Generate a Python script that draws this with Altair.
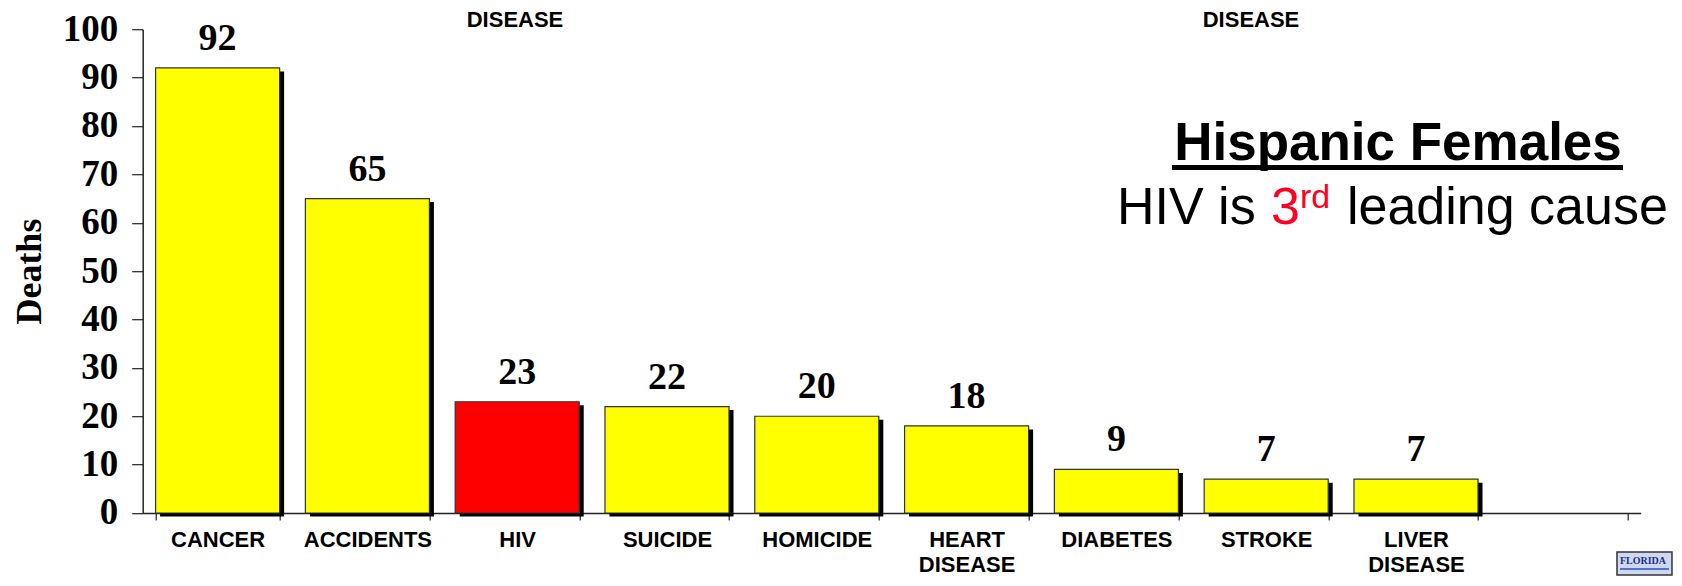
import altair as alt
import pandas as pd

causes = ["CANCER", "ACCIDENTS", "HIV", "SUICIDE", "HOMICIDE",
          "HEART DISEASE", "DIABETES", "STROKE", "LIVER DISEASE"]
deaths = [92, 65, 23, 22, 20, 18, 9, 7, 7]
highlight = ["no", "no", "yes", "no", "no", "no", "no", "no", "no"]
x_domain = causes + [" "]
y_ticks = [0, 10, 20, 30, 40, 50, 60, 70, 80, 90, 100]

df = pd.DataFrame({"cause": causes, "deaths": deaths, "hl": highlight})

# plot origin on page
OX, OY = 142.7, 29.2
PLOT_H = 513.0 - OY

x_enc = alt.X("cause:N", sort=x_domain,
              scale=alt.Scale(domain=x_domain, paddingInner=0.172, paddingOuter=0.086),
              axis=alt.Axis(title=None, labelAngle=0, tickBand="extent",
                            labelFont="Liberation Sans", labelFontWeight="bold",
                            labelFontSize=22, labelColor="black", labelPadding=10,
                            labelLineHeight=25, labelExpr="split(datum.label, ' ')",
                            domainColor="#222", domainWidth=1.5, tickColor="#222",
                            tickWidth=1.2, tickSize=7, grid=False))
y_enc = alt.Y("deaths:Q",
              scale=alt.Scale(domain=[0, 100], nice=False),
              axis=alt.Axis(title="Deaths", values=y_ticks, grid=False,
                            labelFont="Liberation Serif", labelFontWeight="bold",
                            labelFontSize=37, labelColor="black", labelPadding=14,
                            tickSize=11, tickColor="#222", tickWidth=1.2,
                            domainColor="#222", domainWidth=1.5,
                            titleFont="Liberation Serif", titleFontWeight="bold",
                            titleFontSize=36, titleColor="black",
                            titleX=40.5 - OX, titleY=PLOT_H / 2, titleAlign="center",
                            titleBaseline="alphabetic", titleAngle=-90))

base = alt.Chart(df)

shadow = base.mark_bar(color="black", xOffset=4.5, yOffset=3.5).encode(
    x=x_enc, y=y_enc)

bars = base.mark_bar(stroke="#333", strokeWidth=1.2).encode(
    x=x_enc, y=y_enc,
    color=alt.Color("hl:N", scale=alt.Scale(domain=["no", "yes"], range=["#FFFF00", "#FF0000"]),
                    legend=None))

values = base.mark_text(font="Liberation Serif", fontWeight="bold", fontSize=38,
                        color="black", baseline="alphabetic", dy=-18).encode(
    x=x_enc, y=y_enc, text="deaths:Q")

one = alt.Data(values=[{}])

def txt(s, px, py, size, color="black", weight="normal", font="Liberation Sans", align="left"):
    return alt.Chart(one).mark_text(text=s, font=font, fontSize=size, fontWeight=weight,
                                    color=color, align=align, baseline="alphabetic").encode(
        x=alt.value(px - OX), y=alt.value(py - OY))

title = txt("Hispanic Females", 1398, 160, 53, weight="bold", align="center")
underline = alt.Chart(one).mark_rule(color="black", strokeWidth=5).encode(
    x=alt.value(1172 - OX), x2=alt.value(1623 - OX), y=alt.value(167.5 - OY))
s1 = txt("HIV is", 1117, 224, 52)
s2 = txt("3", 1271, 224, 52, color="#FF0022")
s3 = txt("rd", 1300, 208.3, 34, color="#FF0022")
s4 = txt("leading cause", 1347, 224, 52)

top1 = txt("DISEASE", 515, 27, 22, weight="bold", align="center")
top2 = txt("DISEASE", 1251, 27, 22, weight="bold", align="center")

logo_box = alt.Chart(one).mark_rect(fill="#cdd9f2", stroke="#333", strokeWidth=1.5).encode(
    x=alt.value(1617 - OX), x2=alt.value(1672 - OX),
    y=alt.value(552 - OY), y2=alt.value(575 - OY))
logo_txt = txt("FLORIDA", 1620, 564, 10, color="#1f2f80", weight="bold", font="Liberation Serif")
logo_wave = alt.Chart(one).mark_rule(color="#2a4fc0", strokeWidth=1.5).encode(
    x=alt.value(1620 - OX), x2=alt.value(1669 - OX), y=alt.value(569 - OY))

chart = alt.layer(shadow, bars, values, title, underline, s1, s2, s3, s4,
                  top1, top2, logo_box, logo_txt, logo_wave).properties(
    width=1498, height=PLOT_H,
    padding={"left": OX - 8, "top": OY - 8, "right": 33, "bottom": 64},
    autosize=alt.AutoSizeParams(type="none"),
    background="white",
).configure_view(stroke="transparent", strokeWidth=0)

chart.save("out.html", embed_options={"renderer": "svg", "actions": False})
